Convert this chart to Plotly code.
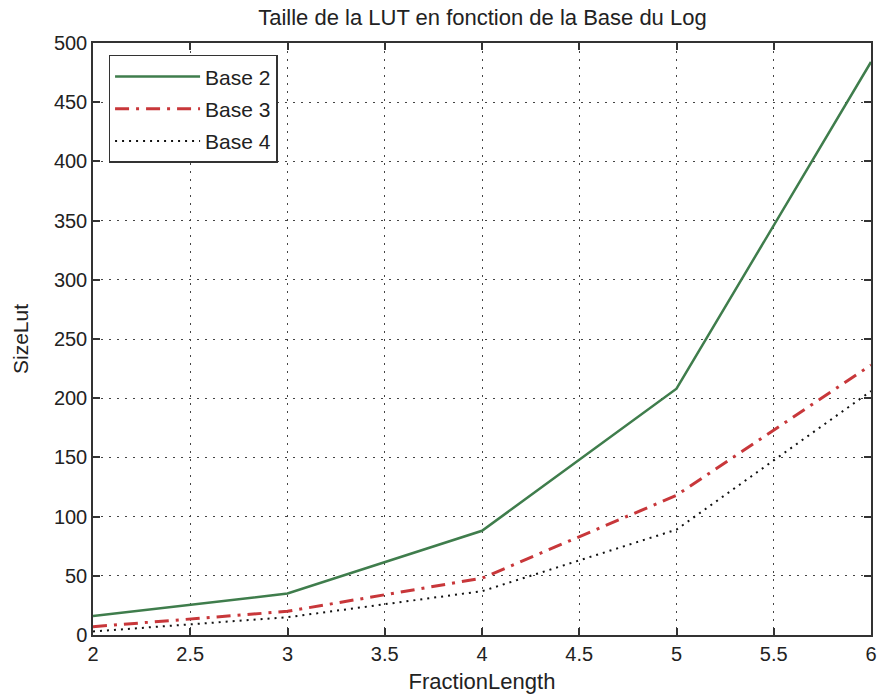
import plotly.graph_objects as go

fraction_length = [2, 3, 4, 5, 6]
base2 = [16, 35, 88, 208, 484]
base3 = [7, 20, 48, 118, 228]
base4 = [3, 15, 37, 89, 206]

x_ticks = [2, 2.5, 3, 3.5, 4, 4.5, 5, 5.5, 6]
y_ticks = [0, 50, 100, 150, 200, 250, 300, 350, 400, 450, 500]

FONT = "Liberation Sans, Arial, sans-serif"

fig = go.Figure()
fig.add_trace(go.Scatter(x=fraction_length, y=base2, mode="lines", name="Base 2",
                         legendgroup="a",
                         line=dict(color="#3f7d4c", width=2.5)))
fig.add_trace(go.Scatter(x=fraction_length, y=base3, mode="lines", name="Base 3",
                         legendgroup="b",
                         line=dict(color="#c8373a", width=3, dash="14px,7px,3px,7px")))
fig.add_trace(go.Scatter(x=fraction_length, y=base4, mode="lines", name="Base 4",
                         legendgroup="c",
                         line=dict(color="#111111", width=2, dash="2px,5px")))

axis_common = dict(
    showline=True, linecolor="#333333", linewidth=1.5, mirror="ticks",
    ticks="inside", ticklen=7, tickcolor="#333333", tickwidth=1.5,
    showgrid=True, gridcolor="#444444", griddash="2px,6px", gridwidth=1.3,
    zeroline=False, tickfont=dict(family=FONT, size=20, color="#222222"),
)

fig.update_xaxes(range=[2, 6], tickvals=x_ticks, ticktext=[str(v) for v in x_ticks],
                 title=dict(text="FractionLength", font=dict(family=FONT, size=22, color="#222222"), standoff=10),
                 **axis_common)
fig.update_yaxes(range=[0, 500], tickvals=y_ticks,
                 title=dict(text="SizeLut", font=dict(family=FONT, size=21, color="#222222"), standoff=20),
                 **axis_common)

fig.update_layout(
    width=882, height=698,
    margin=dict(l=93, r=5, t=43, b=63),
    paper_bgcolor="white", plot_bgcolor="white",
    title=dict(text="Taille de la LUT en fonction de la Base du Log",
               font=dict(family=FONT, size=22, color="#222222"),
               x=0.547, xanchor="center", y=0.975, yanchor="middle"),
    legend=dict(x=0.02, y=0.98, xanchor="left", yanchor="top",
                bordercolor="#333333", borderwidth=1.5, bgcolor="white",
                font=dict(family=FONT, size=21, color="#222222"),
                tracegroupgap=2, itemwidth=85),
    showlegend=True,
)

fig.write_html("out.html")
